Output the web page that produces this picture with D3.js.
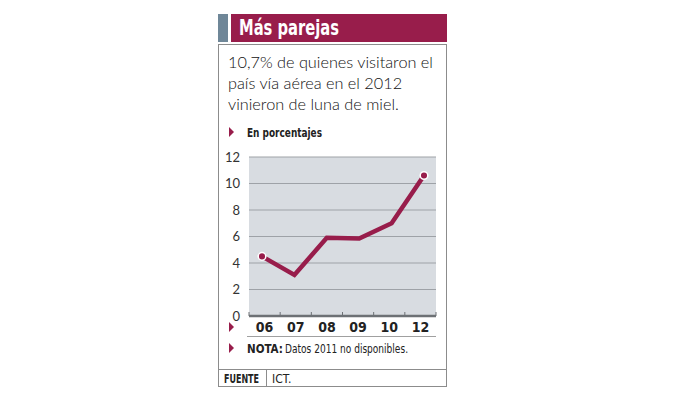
<!DOCTYPE html>
<html>
<head>
    <script src="https://d3js.org/d3.v7.min.js"></script>
    <style>
        body { margin: 0; background: #ffffff; }
        .cond { font-family: 'DejaVu Sans', sans-serif; font-stretch: condensed; }
    </style>
</head>
<body>
    <svg id="chart" width="693" height="398"></svg>
    <script>
        // data
        var years = ["06", "07", "08", "09", "10", "12"];
        var values = [4.5, 3.1, 5.9, 5.85, 7.0, 10.6];
        var yTicks = [0, 2, 4, 6, 8, 10, 12];
        var title = "Más parejas";
        var bodyLines = ["10,7% de quienes visitaron el", "país vía aérea en el 2012", "vinieron de luna de miel."];

        var crimson = "#981d4b";
        var light = "Lato, 'Open Sans', sans-serif";

        var svg = d3.select("#chart");

        // header
        svg.append("rect").attr("x", 218).attr("y", 14).attr("width", 10).attr("height", 28).attr("fill", "#6f8798");
        svg.append("rect").attr("x", 231).attr("y", 14).attr("width", 216).attr("height", 28).attr("fill", crimson);
        svg.append("text").attr("class", "cond").attr("x", 239).attr("y", 35)
            .style("font-weight", "bold").style("font-size", "22px")
            .attr("textLength", 100).attr("lengthAdjust", "spacingAndGlyphs")
            .attr("fill", "#ffffff").text(title);

        // box
        svg.append("rect").attr("x", 218.5).attr("y", 44.5).attr("width", 228).attr("height", 342)
            .attr("fill", "none").attr("stroke", "#8c8c8c").attr("stroke-width", 1);

        svg.selectAll(".body").data(bodyLines).enter().append("text")
            .attr("x", 228).attr("y", function (d, i) { return 68 + i * 21; })
            .style("font-family", light).style("font-weight", 300).style("font-size", "16.3px")
            .attr("fill", "#111").text(function (d) { return d; });

        function marker(x, y) {
            svg.append("path").attr("d", "M" + x + "," + (y - 5) + "L" + (x + 5) + "," + y + "L" + x + "," + (y + 5) + "Z")
                .attr("fill", crimson);
        }
        marker(229, 132);
        svg.append("text").attr("class", "cond").attr("x", 247).attr("y", 137)
            .style("font-weight", "bold").style("font-size", "13px")
            .attr("textLength", 75).attr("lengthAdjust", "spacingAndGlyphs")
            .attr("fill", "#222").text("En porcentajes");

        // chart
        var plotL = 249, plotR = 436, plotT = 157, plotB = 316;
        var y = d3.scaleLinear().domain([0, 12]).range([plotB, plotT]);
        var xBand = d3.scaleBand().domain(years).range([plotL, plotR]).paddingInner(0).paddingOuter(0);
        var xLine = d3.scalePoint().domain(years).range([262, 424]);

        svg.append("rect").attr("x", plotL).attr("y", plotT).attr("width", plotR - plotL).attr("height", plotB - plotT)
            .attr("fill", "#d8dce1");

        svg.selectAll(".grid").data(yTicks.slice(1)).enter().append("line")
            .attr("x1", plotL).attr("x2", plotR)
            .attr("y1", function (d) { return y(d); }).attr("y2", function (d) { return y(d); })
            .attr("stroke", "#9ea2a7").attr("stroke-width", 1);

        var yAxis = svg.append("g").attr("transform", "translate(" + plotL + ",0)")
            .call(d3.axisLeft(y).tickValues(yTicks).tickSize(0).tickPadding(9));
        yAxis.select(".domain").remove();
        yAxis.selectAll("text").style("font-family", light).style("font-size", "13px").attr("fill", "#333");

        var xAxis = svg.append("g").attr("transform", "translate(0," + plotB + ")")
            .call(d3.axisBottom(xBand).tickSize(0).tickPadding(6));
        xAxis.select(".domain").remove();
        xAxis.selectAll("text").attr("class", "cond").style("font-weight", "bold")
            .style("font-size", "14px").attr("fill", "#222");

        // tick marks at band edges
        var edges = years.map(function (d) { return xBand(d); }).concat([plotR]);
        svg.selectAll(".xtick").data(edges).enter().append("line")
            .attr("x1", function (d) { return d; }).attr("x2", function (d) { return d; })
            .attr("y1", plotB - 4).attr("y2", plotB)
            .attr("stroke", "#6d7175").attr("stroke-width", 1);
        svg.append("line").attr("x1", plotL).attr("x2", plotR).attr("y1", plotB).attr("y2", plotB)
            .attr("stroke", "#6d7175").attr("stroke-width", 2.5);

        var line = d3.line()
            .x(function (d, i) { return xLine(years[i]); })
            .y(function (d) { return y(d); });
        svg.append("path").datum(values).attr("d", line)
            .attr("fill", "none").attr("stroke", crimson).attr("stroke-width", 4.5)
            .attr("stroke-linejoin", "miter");

        var ends = [0, values.length - 1];
        svg.selectAll(".end").data(ends).enter().append("circle")
            .attr("cx", function (i) { return xLine(years[i]); })
            .attr("cy", function (i) { return y(values[i]); })
            .attr("r", 3.8).attr("fill", crimson).attr("stroke", "#ffffff").attr("stroke-width", 1.5);

        marker(229, 327);

        // nota
        svg.append("line").attr("x1", 247).attr("x2", plotR).attr("y1", 336.5).attr("y2", 336.5)
            .attr("stroke", "#a0a0a0").attr("stroke-width", 1);
        marker(229, 348);
        svg.append("text").attr("class", "cond").attr("x", 247).attr("y", 353)
            .style("font-size", "11.5px").style("font-weight", "bold").attr("fill", "#222")
            .text("NOTA:");
        svg.append("text").attr("class", "cond").attr("x", 285).attr("y", 353)
            .style("font-size", "12.5px").attr("fill", "#222")
            .attr("textLength", 123).attr("lengthAdjust", "spacingAndGlyphs")
            .text("Datos 2011 no disponibles.");

        // fuente
        svg.append("line").attr("x1", 218).attr("x2", 447).attr("y1", 369.5).attr("y2", 369.5)
            .attr("stroke", "#8c8c8c").attr("stroke-width", 1);
        svg.append("line").attr("x1", 266.5).attr("x2", 266.5).attr("y1", 369.5).attr("y2", 387)
            .attr("stroke", "#8c8c8c").attr("stroke-width", 1);
        svg.append("text").attr("class", "cond").attr("x", 224).attr("y", 383)
            .style("font-weight", "bold").style("font-size", "12px")
            .attr("textLength", 35).attr("lengthAdjust", "spacingAndGlyphs")
            .attr("fill", "#222").text("FUENTE");
        svg.append("text").attr("class", "cond").attr("x", 272).attr("y", 383)
            .style("font-size", "12px")
            .attr("fill", "#222").text("ICT.");
    </script>
</body>
</html>
